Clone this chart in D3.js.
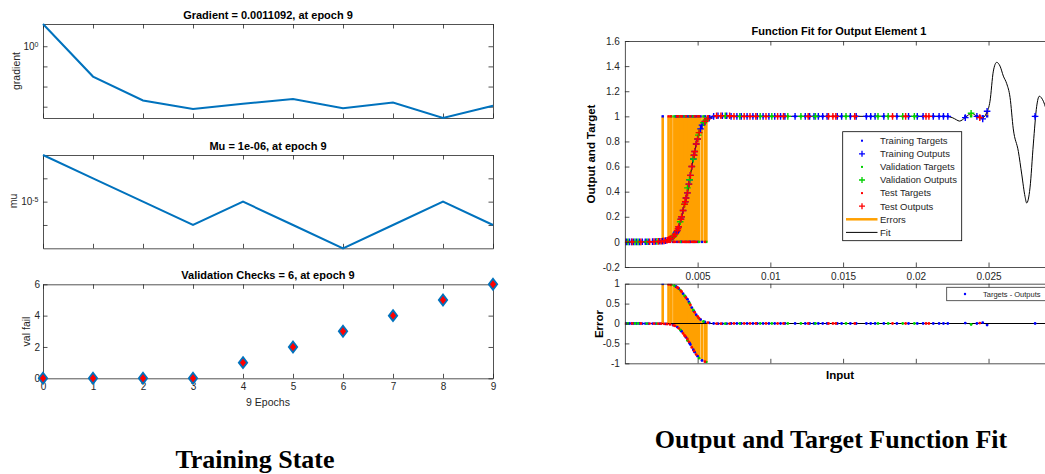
<!DOCTYPE html>
<html>
<head>
<meta charset="utf-8">
<script src="https://cdn.jsdelivr.net/npm/d3@7"></script>
<style>
	body { margin: 0; background: #fff; }
	svg { font-family: "Liberation Sans", Arial, sans-serif; }
	.axis path, .axis line { stroke: #262626; stroke-width: 0.8; }
	.axis text { fill: #262626; font-size: 10px; font-family: "Liberation Sans", Arial, sans-serif; }
</style>
</head>
<body>
<div id="chart"></div>
<script>
// ---- training state data (left) ----
const epochs = [0, 1, 2, 3, 4, 5, 6, 7, 8, 9];
const gradientVals = [12.7, 0.0313, 0.00203, 0.00076, 0.00139, 0.00238, 0.00085, 0.00162, 0.000275, 0.0011092];
const muVals = [1e-3, 1e-4, 1e-5, 1e-6, 1e-5, 1e-6, 1e-7, 1e-6, 1e-5, 1e-6];
const valFailVals = [0, 0, 0, 0, 1, 2, 3, 4, 5, 6];
const gradTicks = [1, 0.1, 0.01, 0.001];
const muTicks = [1e-4, 1e-5, 1e-6];
const valFailTicks = [0, 2, 4, 6];

// ---- function fit data (right) : [input, target, output] ----
const trainPts = [
	[0.00010, 0, 0], [0.00030, 0, 0], [0.00045, 0, 0], [0.00060, 0, 0], [0.00080, 0, 0], [0.00100, 0, 0],
	[0.00120, 0, 0.001], [0.00140, 0, 0.001], [0.00160, 0, 0.001], [0.00190, 0, 0.002], [0.00210, 0, 0.003], [0.00240, 0, 0.005],
	[0.00260, 1, 0.006], [0.00280, 0, 0.010], [0.00330, 0, 0.040], [0.00350, 1, 0.070], [0.00355, 1, 0.080], [0.00360, 0, 0.090],
	[0.00370, 1, 0.120], [0.00385, 0, 0.180], [0.00390, 0, 0.200], [0.00400, 1, 0.250], [0.00415, 1, 0.320], [0.00420, 0, 0.350],
	[0.00430, 1, 0.390], [0.00440, 1, 0.460], [0.00445, 0, 0.495], [0.00450, 0, 0.530], [0.00460, 1, 0.600], [0.00470, 0, 0.660],
	[0.00475, 1, 0.690], [0.00480, 0, 0.720], [0.00490, 1, 0.780], [0.00500, 0, 0.820], [0.00520, 1, 0.900], [0.00530, 0, 0.930],
	[0.00550, 1, 0.960], [0.00580, 1, 0.985],
	[0.0061, 1, 1.0], [0.0064, 1, 1.005], [0.0067, 1, 1.005], [0.0070, 1, 1.005], [0.0073, 1, 1.0], [0.0077, 1, 1.0],
	[0.0080, 1, 1.0], [0.0084, 1, 1.0], [0.0088, 1, 1.0], [0.0091, 1, 1.0], [0.0095, 1, 1.0], [0.0099, 1, 1.0],
	[0.0103, 1, 1.0], [0.0107, 1, 1.0], [0.0110, 1, 1.0], [0.0117, 1, 1.0], [0.0124, 1, 1.0], [0.0127, 1, 1.0],
	[0.0130, 1, 1.0], [0.0133, 1, 1.0], [0.0136, 1, 1.0], [0.0139, 1, 1.0], [0.0146, 1, 1.0], [0.0149, 1, 1.0],
	[0.0155, 1, 1.0], [0.0159, 1, 1.0], [0.0166, 1, 1.0], [0.0169, 1, 1.0], [0.0172, 1, 1.0], [0.0178, 1, 1.0],
	[0.0187, 1, 1.0], [0.0195, 1, 1.0], [0.0201, 1, 1.0], [0.0205, 1, 1.0], [0.0212, 1, 1.0], [0.0216, 1, 1.0],
	[0.0219, 1, 1.0], [0.0222, 1, 1.0],
	[0.0234, 1, 0.99], [0.0242, 1, 1.0], [0.0246, 1, 0.98], [0.0249, 1, 1.04], [0.0282, 1, 1.0]
];
const valPts = [
	[0.00020, 0, 0], [0.00070, 0, 0], [0.00090, 0, 0], [0.00150, 0, 0.001], [0.00220, 0, 0.004],
	[0.00320, 1, 0.030], [0.00340, 1, 0.050], [0.00380, 0, 0.160], [0.00380, 1, 0.160], [0.00410, 1, 0.300],
	[0.00430, 0, 0.430], [0.00445, 1, 0.495], [0.00470, 1, 0.660], [0.00505, 1, 0.850], [0.00510, 0, 0.870],
	[0.00540, 1, 0.950], [0.00560, 0, 0.970],
	[0.0069, 1, 1.005], [0.0079, 1, 1.0], [0.0093, 1, 1.0], [0.0101, 1, 1.0], [0.0112, 1, 1.0], [0.0121, 1, 1.0],
	[0.0131, 1, 1.0], [0.0152, 1, 1.0], [0.0174, 1, 1.0], [0.0181, 1, 1.0], [0.0191, 1, 1.0], [0.0199, 1, 1.0],
	[0.0238, 1, 1.025]
];
const testPts = [
	[0.00000, 0, 0], [0.00050, 0, 0], [0.00110, 0, 0], [0.00170, 0, 0.001], [0.00200, 0, 0.002], [0.00230, 0, 0.004],
	[0.00250, 0, 0.005], [0.00270, 0, 0.008], [0.00290, 0, 0.013], [0.00300, 1, 0.018], [0.00310, 0, 0.024], [0.00315, 1, 0.027],
	[0.00335, 0, 0.045], [0.00345, 0, 0.060], [0.00360, 1, 0.090], [0.00365, 1, 0.105], [0.00370, 0, 0.120], [0.00385, 1, 0.180],
	[0.00390, 1, 0.200], [0.00400, 0, 0.250], [0.00410, 0, 0.300], [0.00415, 0, 0.320], [0.00420, 1, 0.350], [0.00430, 0, 0.390],
	[0.00440, 0, 0.460], [0.00450, 1, 0.530], [0.00460, 0, 0.600], [0.00475, 0, 0.690], [0.00480, 1, 0.720], [0.00490, 0, 0.780],
	[0.00500, 1, 0.820], [0.00510, 1, 0.870], [0.00550, 0, 0.960], [0.00570, 1, 0.980],
	[0.0063, 1, 1.005], [0.0066, 1, 1.005], [0.0072, 1, 1.005], [0.0075, 1, 1.0], [0.0082, 1, 1.0], [0.0086, 1, 1.0],
	[0.0090, 1, 1.0], [0.0097, 1, 1.0], [0.0105, 1, 1.0], [0.0109, 1, 1.0], [0.0126, 1, 1.0], [0.0140, 1, 1.0],
	[0.0143, 1, 1.0], [0.0145, 1, 1.0], [0.0158, 1, 1.0], [0.0184, 1, 1.0], [0.0193, 1, 1.0], [0.0207, 1, 1.0],
	[0.0209, 1, 1.0], [0.0244, 1, 0.99]
];
// fitted network response, [input, output]
const fitCurve = [
	[0, 0], [0.0020, 0.002], [0.0026, 0.006], [0.0030, 0.018], [0.0033, 0.04], [0.0035, 0.07], [0.0037, 0.12],
	[0.0039, 0.2], [0.0041, 0.3], [0.0043, 0.39], [0.0045, 0.53], [0.0047, 0.66], [0.0049, 0.78], [0.0051, 0.87],
	[0.0053, 0.93], [0.0055, 0.96], [0.0058, 0.985], [0.0062, 1.0], [0.0067, 1.005], [0.0075, 1.0], [0.0220, 1.0],
	[0.0225, 0.99], [0.0228, 0.972], [0.0230, 0.962], [0.0234, 0.99], [0.02384, 1.025], [0.0242, 1.0], [0.02453, 0.985],
	[0.02488, 1.03], [0.0251, 1.12], [0.02533, 1.36], [0.02556, 1.43], [0.02579, 1.40], [0.02602, 1.32], [0.02625, 1.26],
	[0.02648, 1.15], [0.0267, 0.90], [0.02705, 0.72], [0.02728, 0.54], [0.02751, 0.36], [0.02762, 0.31], [0.02785, 0.43],
	[0.02808, 0.78], [0.02831, 1.08], [0.02849, 1.16], [0.02877, 1.12], [0.0291, 1.0], [0.0295, 0.85]
];
const fitXTicks = [0.005, 0.01, 0.015, 0.02, 0.025];
const fitXTickLabels = ['0.005', '0.01', '0.015', '0.02', '0.025'];
const fitYTicks = [-0.2, 0, 0.2, 0.4, 0.6, 0.8, 1, 1.2, 1.4, 1.6];
const fitYTickLabels = ['-0.2', '0', '0.2', '0.4', '0.6', '0.8', '1', '1.2', '1.4', '1.6'];
const errYTicks = [-1, -0.5, 0, 0.5, 1];
const errYTickLabels = ['-1', '-0.5', '0', '0.5', '1'];
const legendLabels = ['Training Targets', 'Training Outputs', 'Validation Targets', 'Validation Outputs',
	'Test Targets', 'Test Outputs', 'Errors', 'Fit'];

const width = 1045;
const height = 474;
const lineBlue = '#0072bd';
const errColor = '#ffa000';
const sets = [
	{ pts: trainPts, color: '#0000ff' },
	{ pts: valPts, color: '#00d000' },
	{ pts: testPts, color: '#ff0000' }
];

const svg = d3.select('#chart').append('svg')
	.attr('width', width)
	.attr('height', height);

// inward-tick box around a plot area; labels only where a format is given
function boxAxes(x, y, opt) {
	const [x0, x1] = x.range();
	const [yb, yt] = y.range();
	const g = svg.append('g');
	const mk = (axis, tx, ty) => g.append('g')
		.attr('class', 'axis')
		.attr('transform', `translate(${tx}, ${ty})`)
		.call(axis);
	mk(d3.axisBottom(x).tickValues(opt.xTicks).tickSize(-4.5).tickSizeOuter(0).tickPadding(opt.xPad || 6)
		.tickFormat(opt.xFormat || (() => '')), 0, yb);
	mk(d3.axisTop(x).tickValues(opt.xTicks).tickSize(-4.5).tickSizeOuter(0).tickFormat(() => ''), 0, yt);
	mk(d3.axisLeft(y).tickValues(opt.yTicks).tickSize(-4.5).tickSizeOuter(0).tickPadding(opt.yPad || 4)
		.tickFormat(opt.yFormat || (() => '')), x0, 0);
	if (opt.right !== false) {
		mk(d3.axisRight(y).tickValues(opt.yTicks).tickSize(-4.5).tickSizeOuter(0).tickFormat(() => ''), x1, 0);
	}
	return g;
}

function title(text, x, y, size) {
	svg.append('text')
		.attr('x', x).attr('y', y)
		.style('text-anchor', 'middle')
		.style('font-weight', 'bold')
		.style('font-size', size + 'px')
		.style('fill', '#000')
		.text(text);
}

function yLabel(text, x, y, opt = {}) {
	svg.append('text')
		.attr('transform', `translate(${x}, ${y}) rotate(-90)`)
		.attr('dy', '0.35em')
		.style('text-anchor', 'middle')
		.style('font-size', (opt.size || 10.5) + 'px')
		.style('font-weight', opt.bold ? 'bold' : 'normal')
		.style('fill', opt.color || '#262626')
		.text(text);
}

function powLabel(exp, x, y) {
	const t = svg.append('text')
		.attr('x', x).attr('y', y)
		.attr('dy', '0.35em')
		.style('text-anchor', 'end')
		.style('font-size', '10px')
		.style('fill', '#262626');
	t.append('tspan').text('10');
	t.append('tspan').attr('dy', '-0.45em').style('font-size', '7px').text(exp);
}

// ================= left: training state =================
const xEpoch = d3.scaleLinear().domain([0, 9]).range([43, 493]);
const epochLine = (y, vals) => d3.line()
	.x((d, i) => xEpoch(epochs[i]))
	.y(d => y(d))(vals);

// gradient
const yGrad = d3.scaleLog().domain(d3.extent(gradientVals)).range([118, 24]);
boxAxes(xEpoch, yGrad, { xTicks: epochs, yTicks: gradTicks });
svg.append('path')
	.attr('d', epochLine(yGrad, gradientVals))
	.style('fill', 'none')
	.style('stroke', lineBlue)
	.style('stroke-width', 2);
powLabel('0', 38.5, yGrad(1));
title('Gradient = 0.0011092, at epoch 9', 268, 19, 11);
yLabel('gradient', 16, 71);

// mu
const yMu = d3.scaleLog().domain(d3.extent(muVals)).range([248.3, 155]);
boxAxes(xEpoch, yMu, { xTicks: epochs, yTicks: muTicks });
svg.append('path')
	.attr('d', epochLine(yMu, muVals))
	.style('fill', 'none')
	.style('stroke', lineBlue)
	.style('stroke-width', 2);
powLabel('-5', 38.5, yMu(1e-5));
title('Mu = 1e-06, at epoch 9', 268, 149.5, 11);
yLabel('mu', 13, 201);

// validation checks
const yVal = d3.scaleLinear().domain([0, 6]).range([378.3, 284.3]);
boxAxes(xEpoch, yVal, {
	xTicks: epochs, yTicks: valFailTicks,
	xFormat: d => d, yFormat: d => d, xPad: 5, yPad: 3
});
svg.append('g').selectAll('path')
	.data(valFailVals)
	.join('path')
	.attr('transform', (d, i) => `translate(${xEpoch(epochs[i])}, ${yVal(d)})`)
	.attr('d', 'M0,-5.5L4.2,0L0,5.5L-4.2,0Z')
	.style('fill', '#ff0000')
	.style('stroke', lineBlue)
	.style('stroke-width', 1.8);
title('Validation Checks = 6, at epoch 9', 268, 279, 11);
yLabel('val fail', 26.5, 331.5);
svg.append('text')
	.attr('x', 268).attr('y', 406)
	.style('text-anchor', 'middle')
	.style('font-size', '10.5px')
	.style('fill', '#262626')
	.text('9 Epochs');

// ================= right: function fit =================
const xIn = d3.scaleLinear().domain([0, 0.0295]).range([624.9, 1054]);
const yOut = d3.scaleLinear().domain([-0.2, 1.6]).range([267, 41]);
const yErr = d3.scaleLinear().domain([-1, 1]).range([363.3, 283.7]);

svg.append('clipPath').attr('id', 'clip-fit')
	.append('rect').attr('x', 624.9).attr('y', 41).attr('width', 430).attr('height', 226);
svg.append('clipPath').attr('id', 'clip-err')
	.append('rect').attr('x', 624.9).attr('y', 283.7).attr('width', 430).attr('height', 79.6);

const plus = (x, y, r) => `M${x - r},${y}h${2 * r}M${x},${y - r}v${2 * r}`;

// main plot marks
const fitG = svg.append('g').attr('clip-path', 'url(#clip-fit)');
sets.forEach(s => {
	fitG.append('g').selectAll('line')
		.data(s.pts.filter(d => d[1] !== d[2]))
		.join('line')
		.attr('x1', d => xIn(d[0])).attr('x2', d => xIn(d[0]))
		.attr('y1', d => yOut(d[1])).attr('y2', d => yOut(d[2]))
		.style('stroke', errColor)
		.style('stroke-width', 2.6);
});
fitG.append('path')
	.attr('d', d3.line().curve(d3.curveMonotoneX).x(d => xIn(d[0])).y(d => yOut(d[1]))(fitCurve))
	.style('fill', 'none')
	.style('stroke', '#000')
	.style('stroke-width', 1);
sets.forEach(s => {
	fitG.append('g').selectAll('rect')
		.data(s.pts)
		.join('rect')
		.attr('x', d => xIn(d[0]) - 1.2).attr('y', d => yOut(d[1]) - 1.2)
		.attr('width', 2.4).attr('height', 2.4)
		.style('fill', s.color);
	fitG.append('path')
		.attr('d', s.pts.map(d => plus(xIn(d[0]), yOut(d[2]), 3.3)).join(''))
		.style('fill', 'none')
		.style('stroke', s.color)
		.style('stroke-width', 1.4);
});

boxAxes(xIn, yOut, {
	xTicks: fitXTicks, yTicks: fitYTicks, right: false,
	xFormat: (d, i) => fitXTickLabels[i], yFormat: (d, i) => fitYTickLabels[i],
	xPad: 6, yPad: 5
});
title('Function Fit for Output Element 1', 839, 35, 11);
yLabel('Output and Target', 591, 154, { size: 11.5, bold: true, color: '#000' });

// legend
const lg = svg.append('g');
lg.append('rect')
	.attr('x', 842.7).attr('y', 131.7).attr('width', 119).attr('height', 109)
	.style('fill', '#fff').style('stroke', '#000').style('stroke-width', 0.8);
legendLabels.forEach((label, i) => {
	const ly = 140.7 + i * 13.1;
	if (i < 6) {
		const s = sets[Math.floor(i / 2)];
		if (i % 2 === 0) {
			lg.append('rect').attr('x', 861).attr('y', ly - 1).attr('width', 2).attr('height', 2)
				.style('fill', s.color);
		} else {
			lg.append('path').attr('d', plus(862, ly, 3))
				.style('stroke', s.color).style('stroke-width', 1.3);
		}
	} else {
		lg.append('line').attr('x1', 846).attr('x2', 877.5).attr('y1', ly).attr('y2', ly)
			.style('stroke', i === 6 ? errColor : '#000')
			.style('stroke-width', i === 6 ? 2.5 : 1);
	}
	lg.append('text')
		.attr('x', 880).attr('y', ly)
		.attr('dy', '0.35em')
		.style('font-size', '9.5px')
		.style('fill', '#262626')
		.text(label);
});

// error plot
const errG = svg.append('g').attr('clip-path', 'url(#clip-err)');
sets.forEach(s => {
	errG.append('g').selectAll('line')
		.data(s.pts.filter(d => d[1] !== d[2]))
		.join('line')
		.attr('x1', d => xIn(d[0])).attr('x2', d => xIn(d[0]))
		.attr('y1', yErr(0)).attr('y2', d => yErr(d[1] - d[2]))
		.style('stroke', errColor)
		.style('stroke-width', 2.6);
});
errG.append('line')
	.attr('x1', xIn.range()[0]).attr('x2', xIn.range()[1])
	.attr('y1', yErr(0)).attr('y2', yErr(0))
	.style('stroke', '#000')
	.style('stroke-width', 1);
sets.forEach(s => {
	errG.append('g').selectAll('circle')
		.data(s.pts)
		.join('circle')
		.attr('cx', d => xIn(d[0])).attr('cy', d => yErr(d[1] - d[2]))
		.attr('r', 1.4)
		.style('fill', s.color);
});
boxAxes(xIn, yErr, {
	xTicks: fitXTicks, yTicks: errYTicks, right: false,
	yFormat: (d, i) => errYTickLabels[i], yPad: 5
});
yLabel('Error', 599, 324, { size: 11.5, bold: true, color: '#000' });
title('Input', 840, 378.5, 11.5);

// error legend
svg.append('rect')
	.attr('x', 946.7).attr('y', 287.3).attr('width', 110).attr('height', 13.4)
	.style('fill', '#fff').style('stroke', '#333').style('stroke-width', 0.8);
svg.append('circle').attr('cx', 965).attr('cy', 294).attr('r', 1.2).style('fill', '#0000ff');
svg.append('text')
	.attr('x', 983).attr('y', 294).attr('dy', '0.35em')
	.style('font-size', '7.5px').style('fill', '#262626')
	.text('Targets - Outputs');

// captions
[['Training State', 255, 468], ['Output and Target Function Fit', 831, 448]].forEach(([t, x, y]) => {
	svg.append('text')
		.attr('x', x).attr('y', y)
		.style('text-anchor', 'middle')
		.style('font-family', '"Liberation Serif", "Times New Roman", serif')
		.style('font-weight', 'bold')
		.style('font-size', '26px')
		.style('fill', '#000')
		.text(t);
});
</script>
</body>
</html>
